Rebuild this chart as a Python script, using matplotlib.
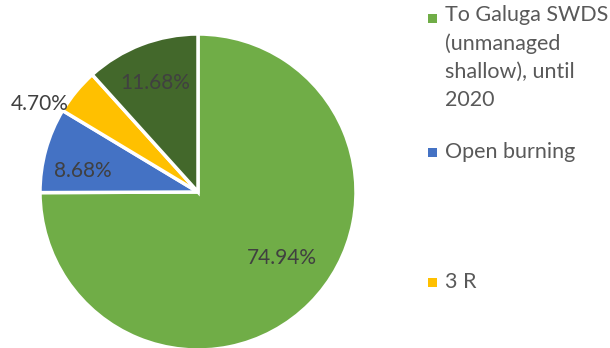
import matplotlib
matplotlib.use("Agg")
import matplotlib.pyplot as plt
from matplotlib.patches import Rectangle

categories = ["To Galuga SWDS\n(unmanaged\nshallow), until\n2020", "Open burning", "3 R", "Other"]
values = [74.94, 8.68, 4.70, 11.68]
colors = ["#70AD47", "#4472C4", "#FFC000", "#43682B"]
pct_labels = ["74.94%", "8.68%", "4.70%", "11.68%"]

plt.rcParams['font.family'] = ['Lato', 'DejaVu Sans']

W, H = 610, 348
fig = plt.figure(figsize=(W / 100, H / 100), dpi=100)
cx, cy, r = 198, 156, 158
ax = fig.add_axes([(cx - r) / W, (cy - r) / H, 2 * r / W, 2 * r / H])
wedges, _ = ax.pie(values, colors=colors, startangle=90, counterclock=False,
                   radius=1, wedgeprops=dict(edgecolor="white", linewidth=2.5))
ax.set_xlim(-1, 1)
ax.set_ylim(-1, 1)
ax.set_aspect('auto')
ax.axis('off')

label_pos = [(0.53, -0.42), (-0.73, 0.13), (-1.0, 0.56), (-0.27, 0.69)]
for (x, y), t in zip(label_pos, pct_labels):
    ax.text(x, y, t, ha="center", va="center", fontsize=15, color="#404040", clip_on=False)

# legend (only first three entries visible in the clipped original)
legend_y = [18, 152, 282]
for i, y in enumerate(legend_y):
    fig.add_artist(Rectangle(((428) / W, (H - y - 4.5) / H), 9 / W, 9 / H,
                             facecolor=colors[i], edgecolor="none", transform=fig.transFigure))
    off = 13 if i == 0 else 10
    fig.text(445 / W, (H - y + off) / H, categories[i], ha="left", va="top",
             fontsize=15.5, color="#595959", linespacing=1.5)

fig.savefig("out.png", dpi=100)
